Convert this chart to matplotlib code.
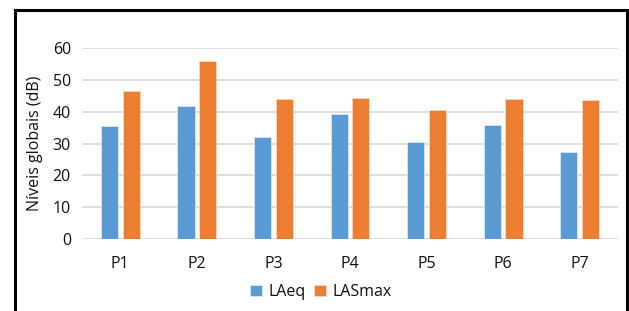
import numpy as np
import matplotlib
matplotlib.use("Agg")
import matplotlib.pyplot as plt
from matplotlib.patches import Rectangle

plt.rcParams['font.family'] = ['Open Sans', 'DejaVu Sans']

# data
points = ['P1', 'P2', 'P3', 'P4', 'P5', 'P6', 'P7']
laeq = [35.5, 41.8, 32.0, 39.2, 30.6, 35.8, 27.5]
lasmax = [46.5, 55.9, 43.9, 44.5, 40.6, 43.9, 43.6]

W, H = 629, 311
fig = plt.figure(figsize=(W / 100, H / 100), dpi=100)
ax = fig.add_axes([82 / W, 1 - 239 / H, (618 - 82) / W, (239 - 48.3) / H])

x = np.arange(len(points))
w = 0.225
ax.bar(x - 0.142, laeq, w, color='#5B9BD5', edgecolor='#DCE8F5', linewidth=0.6,
       label='LAeq', zorder=3)
ax.bar(x + 0.142, lasmax, w, color='#ED7D31', edgecolor='#FAD9C3', linewidth=0.6,
       label='LASmax', zorder=3)

ax.set_xlim(-0.5, 6.5)
ax.set_ylim(0, 60)
ax.set_yticks(range(0, 61, 10))
ax.set_xticks(x)
ax.set_xticklabels(points)
ax.yaxis.grid(True, color='#D9D9D9', linewidth=1.2, zorder=0)
ax.set_axisbelow(True)
for s in ax.spines.values():
    s.set_visible(False)
ax.tick_params(axis='both', length=0, labelsize=11.5, colors='#111111')
ax.tick_params(axis='x', pad=12)
ax.tick_params(axis='y', pad=8)
ax.set_ylabel('Níveis globais (dB)', fontsize=11.5, color='#111111', labelpad=7)

fig.legend(loc='center', bbox_to_anchor=(321 / W, 1 - 292 / H), ncol=2,
           frameon=False, fontsize=11.5, handlelength=0.75, handleheight=0.75,
           handletextpad=0.4, columnspacing=0.5, labelcolor='#111111')

# outer frame
fig.patches.append(Rectangle((15 / W, -0.05), (627 - 15) / W, 1.05 - 9.5 / H,
                             transform=fig.transFigure, fill=False,
                             edgecolor='black', linewidth=2.2))

fig.savefig('out.png', dpi=100)
